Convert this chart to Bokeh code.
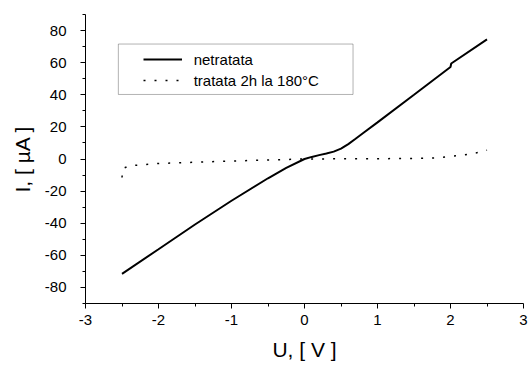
from bokeh.plotting import figure
from bokeh.models import Range1d, FixedTicker, Legend, LegendItem, BoxAnnotation, PrintfTickFormatter
from bokeh.embed import file_html
from bokeh.resources import INLINE

# Data
u_net = [-2.5, -2.0, -1.5, -1.0, -0.5, -0.25, 0.0, 0.1, 0.2, 0.3, 0.4, 0.5, 0.6, 0.7, 0.8, 1.0, 1.5, 2.0, 2.01, 2.5]
i_net = [-71.5, -56.2, -40.8, -26.0, -12.0, -5.5, 0.0, 1.3, 2.4, 3.4, 4.6, 6.5, 9.3, 12.6, 16.0, 22.8, 40.0, 57.3, 59.5, 74.5]

u_trat = [-2.5, -2.49, -2.4, -2.2, -2.0, -1.5, -1.0, -0.5, 0.0, 0.5, 1.0, 1.5, 1.8, 2.0, 2.2, 2.4, 2.5]
i_trat = [-11.5, -6.0, -4.2, -3.5, -2.8, -2.0, -1.3, -0.6, 0.0, 0.1, 0.2, 0.3, 0.7, 1.6, 2.6, 4.2, 5.5]

x_ticks = [-3, -2, -1, 0, 1, 2, 3]
y_ticks = [-80, -60, -40, -20, 0, 20, 40, 60, 80]
x_minor = [-2.5, -1.5, -0.5, 0.5, 1.5, 2.5]
y_minor = [-90, -70, -50, -30, -10, 10, 30, 50, 70, 90]

label_net = "netratata"
label_trat = "tratata 2h la 180°C"

FONT = "Liberation Sans"

p = figure(width=528, height=365, output_backend="svg", toolbar_location=None,
           x_range=Range1d(-3, 3), y_range=Range1d(-90, 90),
           min_border_left=85, min_border_right=5, min_border_top=14, min_border_bottom=62)
p.outline_line_color = None
p.xgrid.visible = False
p.ygrid.visible = False
p.background_fill_color = "white"
p.border_fill_color = "white"

r1 = p.line(u_net, i_net, line_color="black", line_width=2)
r2 = p.line(u_trat, i_trat, line_color="black", line_width=1.5, line_dash="2 9")

p.xaxis.ticker = FixedTicker(ticks=x_ticks, minor_ticks=x_minor)
p.yaxis.ticker = FixedTicker(ticks=y_ticks, minor_ticks=y_minor)
p.xaxis.formatter = PrintfTickFormatter(format="%d")
p.yaxis.formatter = PrintfTickFormatter(format="%d")

for ax in (p.xaxis[0], p.yaxis[0]):
    ax.axis_line_color = "black"
    ax.axis_line_width = 1
    ax.major_tick_line_color = "black"
    ax.minor_tick_line_color = "black"
    ax.major_tick_out = 5
    ax.major_tick_in = 0
    ax.minor_tick_out = 3
    ax.minor_tick_in = 0
    ax.major_label_text_font = FONT
    ax.major_label_text_font_size = "15px"
    ax.major_label_text_color = "black"
    ax.axis_label_text_font = FONT
    ax.axis_label_text_font_size = "21px"
    ax.axis_label_text_font_style = "normal"
    ax.axis_label_text_color = "black"

p.xaxis.axis_label = "U, [ V ]"
p.yaxis.axis_label = "I, [ µA ]"
p.xaxis.major_label_standoff = 6
p.yaxis.major_label_standoff = 14
p.xaxis.axis_label_standoff = 10
p.yaxis.axis_label_standoff = 8

# legend frame (box around the legend)
box = BoxAnnotation(left=-2.55, right=0.665, top=71.6, bottom=40.2,
                    fill_alpha=0, line_color="black", line_width=1)
p.add_layout(box)

legend = Legend(items=[LegendItem(label=label_net, renderers=[r1]),
                       LegendItem(label=label_trat, renderers=[r2])],
                location=(51.7, 206.7), padding=6, spacing=1,
                glyph_width=39, glyph_height=20, label_height=20,
                label_standoff=12, border_line_alpha=0,
                background_fill_alpha=0,
                label_text_font=FONT, label_text_font_size="15px",
                label_text_color="black")
p.add_layout(legend)

open("out.html", "w").write(file_html(p, INLINE))
